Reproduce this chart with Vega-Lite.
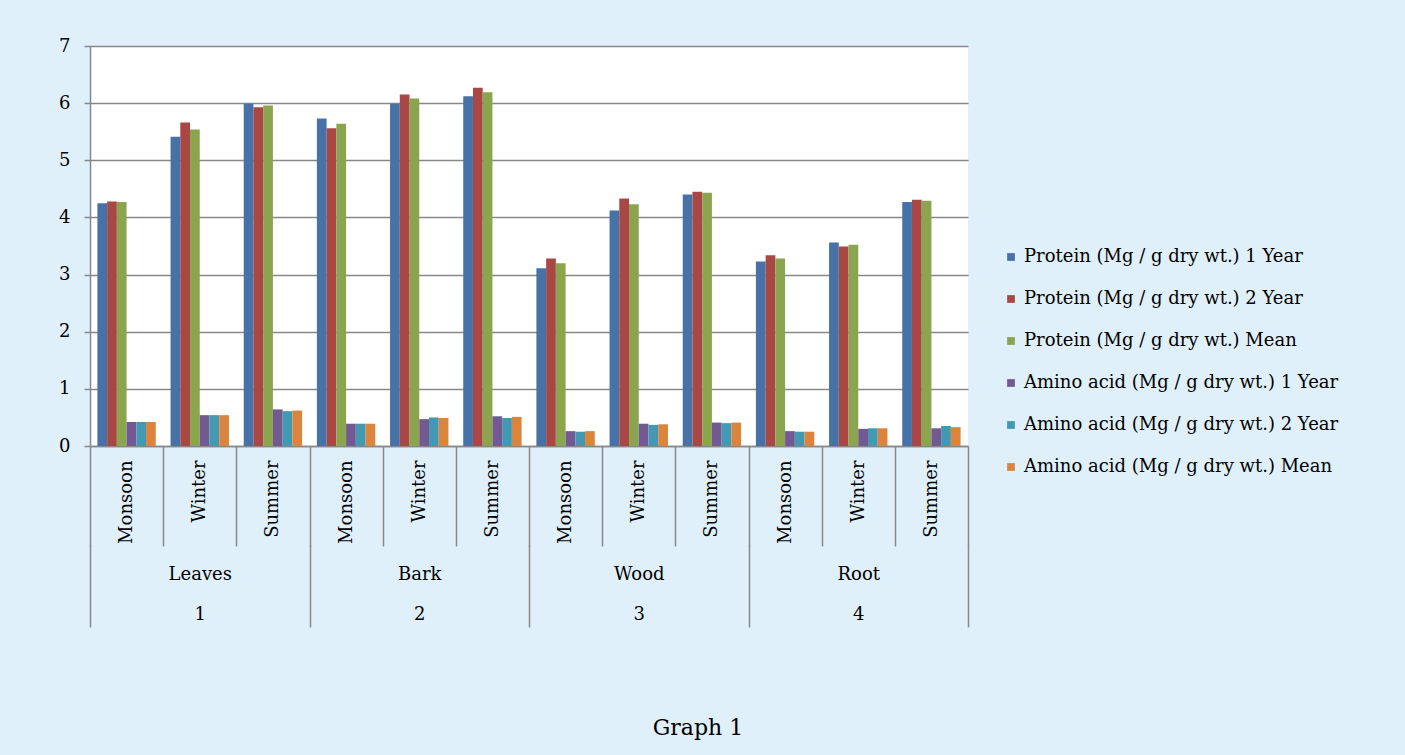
{
  "$schema": "https://vega.github.io/schema/vega-lite/v6.json",
  "width": 878,
  "height": 400,
  "autosize": {"type": "none"},
  "padding": {"left": 90, "top": 46, "right": 437, "bottom": 309},
  "background": "#dff0fb",
  "config": {
    "view": {"fill": "white", "stroke": null},
    "font": "DejaVu Serif"
  },
  "title": {
    "text": "Graph 1",
    "orient": "bottom",
    "anchor": "middle",
    "dx": 169,
    "offset": 90,
    "font": "DejaVu Serif",
    "fontSize": 22,
    "fontWeight": "normal",
    "color": "black"
  },
  "datasets": {
    "bars": [
      {"k": "Leaves|Monsoon", "s": "Protein (Mg / g dry wt.) 1 Year", "v": 4.25},
      {"k": "Leaves|Monsoon", "s": "Protein (Mg / g dry wt.) 2 Year", "v": 4.28},
      {"k": "Leaves|Monsoon", "s": "Protein (Mg / g dry wt.) Mean", "v": 4.27},
      {"k": "Leaves|Monsoon", "s": "Amino acid (Mg / g dry wt.) 1 Year", "v": 0.42},
      {"k": "Leaves|Monsoon", "s": "Amino acid (Mg / g dry wt.) 2 Year", "v": 0.42},
      {"k": "Leaves|Monsoon", "s": "Amino acid (Mg / g dry wt.) Mean", "v": 0.42},
      {"k": "Leaves|Winter", "s": "Protein (Mg / g dry wt.) 1 Year", "v": 5.41},
      {"k": "Leaves|Winter", "s": "Protein (Mg / g dry wt.) 2 Year", "v": 5.66},
      {"k": "Leaves|Winter", "s": "Protein (Mg / g dry wt.) Mean", "v": 5.54},
      {"k": "Leaves|Winter", "s": "Amino acid (Mg / g dry wt.) 1 Year", "v": 0.54},
      {"k": "Leaves|Winter", "s": "Amino acid (Mg / g dry wt.) 2 Year", "v": 0.54},
      {"k": "Leaves|Winter", "s": "Amino acid (Mg / g dry wt.) Mean", "v": 0.54},
      {"k": "Leaves|Summer", "s": "Protein (Mg / g dry wt.) 1 Year", "v": 5.99},
      {"k": "Leaves|Summer", "s": "Protein (Mg / g dry wt.) 2 Year", "v": 5.93},
      {"k": "Leaves|Summer", "s": "Protein (Mg / g dry wt.) Mean", "v": 5.96},
      {"k": "Leaves|Summer", "s": "Amino acid (Mg / g dry wt.) 1 Year", "v": 0.64},
      {"k": "Leaves|Summer", "s": "Amino acid (Mg / g dry wt.) 2 Year", "v": 0.61},
      {"k": "Leaves|Summer", "s": "Amino acid (Mg / g dry wt.) Mean", "v": 0.62},
      {"k": "Bark|Monsoon", "s": "Protein (Mg / g dry wt.) 1 Year", "v": 5.73},
      {"k": "Bark|Monsoon", "s": "Protein (Mg / g dry wt.) 2 Year", "v": 5.56},
      {"k": "Bark|Monsoon", "s": "Protein (Mg / g dry wt.) Mean", "v": 5.64},
      {"k": "Bark|Monsoon", "s": "Amino acid (Mg / g dry wt.) 1 Year", "v": 0.39},
      {"k": "Bark|Monsoon", "s": "Amino acid (Mg / g dry wt.) 2 Year", "v": 0.39},
      {"k": "Bark|Monsoon", "s": "Amino acid (Mg / g dry wt.) Mean", "v": 0.39},
      {"k": "Bark|Winter", "s": "Protein (Mg / g dry wt.) 1 Year", "v": 5.99},
      {"k": "Bark|Winter", "s": "Protein (Mg / g dry wt.) 2 Year", "v": 6.15},
      {"k": "Bark|Winter", "s": "Protein (Mg / g dry wt.) Mean", "v": 6.08},
      {"k": "Bark|Winter", "s": "Amino acid (Mg / g dry wt.) 1 Year", "v": 0.47},
      {"k": "Bark|Winter", "s": "Amino acid (Mg / g dry wt.) 2 Year", "v": 0.50},
      {"k": "Bark|Winter", "s": "Amino acid (Mg / g dry wt.) Mean", "v": 0.49},
      {"k": "Bark|Summer", "s": "Protein (Mg / g dry wt.) 1 Year", "v": 6.12},
      {"k": "Bark|Summer", "s": "Protein (Mg / g dry wt.) 2 Year", "v": 6.27},
      {"k": "Bark|Summer", "s": "Protein (Mg / g dry wt.) Mean", "v": 6.19},
      {"k": "Bark|Summer", "s": "Amino acid (Mg / g dry wt.) 1 Year", "v": 0.52},
      {"k": "Bark|Summer", "s": "Amino acid (Mg / g dry wt.) 2 Year", "v": 0.49},
      {"k": "Bark|Summer", "s": "Amino acid (Mg / g dry wt.) Mean", "v": 0.51},
      {"k": "Wood|Monsoon", "s": "Protein (Mg / g dry wt.) 1 Year", "v": 3.11},
      {"k": "Wood|Monsoon", "s": "Protein (Mg / g dry wt.) 2 Year", "v": 3.28},
      {"k": "Wood|Monsoon", "s": "Protein (Mg / g dry wt.) Mean", "v": 3.20},
      {"k": "Wood|Monsoon", "s": "Amino acid (Mg / g dry wt.) 1 Year", "v": 0.26},
      {"k": "Wood|Monsoon", "s": "Amino acid (Mg / g dry wt.) 2 Year", "v": 0.25},
      {"k": "Wood|Monsoon", "s": "Amino acid (Mg / g dry wt.) Mean", "v": 0.26},
      {"k": "Wood|Winter", "s": "Protein (Mg / g dry wt.) 1 Year", "v": 4.12},
      {"k": "Wood|Winter", "s": "Protein (Mg / g dry wt.) 2 Year", "v": 4.33},
      {"k": "Wood|Winter", "s": "Protein (Mg / g dry wt.) Mean", "v": 4.23},
      {"k": "Wood|Winter", "s": "Amino acid (Mg / g dry wt.) 1 Year", "v": 0.39},
      {"k": "Wood|Winter", "s": "Amino acid (Mg / g dry wt.) 2 Year", "v": 0.37},
      {"k": "Wood|Winter", "s": "Amino acid (Mg / g dry wt.) Mean", "v": 0.38},
      {"k": "Wood|Summer", "s": "Protein (Mg / g dry wt.) 1 Year", "v": 4.40},
      {"k": "Wood|Summer", "s": "Protein (Mg / g dry wt.) 2 Year", "v": 4.45},
      {"k": "Wood|Summer", "s": "Protein (Mg / g dry wt.) Mean", "v": 4.43},
      {"k": "Wood|Summer", "s": "Amino acid (Mg / g dry wt.) 1 Year", "v": 0.41},
      {"k": "Wood|Summer", "s": "Amino acid (Mg / g dry wt.) 2 Year", "v": 0.40},
      {"k": "Wood|Summer", "s": "Amino acid (Mg / g dry wt.) Mean", "v": 0.41},
      {"k": "Root|Monsoon", "s": "Protein (Mg / g dry wt.) 1 Year", "v": 3.23},
      {"k": "Root|Monsoon", "s": "Protein (Mg / g dry wt.) 2 Year", "v": 3.34},
      {"k": "Root|Monsoon", "s": "Protein (Mg / g dry wt.) Mean", "v": 3.28},
      {"k": "Root|Monsoon", "s": "Amino acid (Mg / g dry wt.) 1 Year", "v": 0.26},
      {"k": "Root|Monsoon", "s": "Amino acid (Mg / g dry wt.) 2 Year", "v": 0.25},
      {"k": "Root|Monsoon", "s": "Amino acid (Mg / g dry wt.) Mean", "v": 0.25},
      {"k": "Root|Winter", "s": "Protein (Mg / g dry wt.) 1 Year", "v": 3.56},
      {"k": "Root|Winter", "s": "Protein (Mg / g dry wt.) 2 Year", "v": 3.49},
      {"k": "Root|Winter", "s": "Protein (Mg / g dry wt.) Mean", "v": 3.52},
      {"k": "Root|Winter", "s": "Amino acid (Mg / g dry wt.) 1 Year", "v": 0.30},
      {"k": "Root|Winter", "s": "Amino acid (Mg / g dry wt.) 2 Year", "v": 0.31},
      {"k": "Root|Winter", "s": "Amino acid (Mg / g dry wt.) Mean", "v": 0.31},
      {"k": "Root|Summer", "s": "Protein (Mg / g dry wt.) 1 Year", "v": 4.27},
      {"k": "Root|Summer", "s": "Protein (Mg / g dry wt.) 2 Year", "v": 4.31},
      {"k": "Root|Summer", "s": "Protein (Mg / g dry wt.) Mean", "v": 4.29},
      {"k": "Root|Summer", "s": "Amino acid (Mg / g dry wt.) 1 Year", "v": 0.31},
      {"k": "Root|Summer", "s": "Amino acid (Mg / g dry wt.) 2 Year", "v": 0.35},
      {"k": "Root|Summer", "s": "Amino acid (Mg / g dry wt.) Mean", "v": 0.33}
    ],
    "tissues": [
      {"tissue": "Leaves", "num": 1},
      {"tissue": "Bark", "num": 2},
      {"tissue": "Wood", "num": 3},
      {"tissue": "Root", "num": 4}
    ]
  },
  "layer": [
    {
      "data": {"name": "bars"},
      "mark": {"type": "bar"},
      "encoding": {
        "x": {
          "field": "k",
          "type": "nominal",
          "sort": null,
          "scale": {"paddingInner": 0, "paddingOuter": 0},
          "axis": {
            "title": null,
            "labelExpr": "split(datum.label, '|')[1]",
            "labelAngle": -90,
            "labelAlign": "right",
            "labelBaseline": "middle",
            "labelFont": "DejaVu Serif",
            "labelFontSize": 18,
            "labelColor": "black",
            "labelPadding": -86,
            "ticks": true,
            "tickBand": "extent",
            "tickSize": 100,
            "tickColor": "#888888",
            "tickWidth": 1.5,
            "domainColor": "#888888",
            "domainWidth": 1.5,
            "grid": false
          }
        },
        "xOffset": {
          "field": "s",
          "type": "nominal",
          "sort": null,
          "scale": {"paddingInner": 0, "paddingOuter": 0.76}
        },
        "y": {
          "field": "v",
          "type": "quantitative",
          "scale": {"domain": [0, 7], "nice": false},
          "axis": {
            "title": null,
            "values": [0, 1, 2, 3, 4, 5, 6, 7],
            "labelFont": "DejaVu Serif",
            "labelFontSize": 18,
            "labelColor": "black",
            "labelPadding": 14,
            "tickSize": 6,
            "tickColor": "#888888",
            "tickWidth": 1.5,
            "domainColor": "#888888",
            "domainWidth": 1.5,
            "grid": true,
            "gridColor": "#888888",
            "gridWidth": 1.4,
            "gridOpacity": 1
          }
        },
        "color": {
          "field": "s",
          "type": "nominal",
          "scale": {
            "domain": [
              "Protein (Mg / g dry wt.) 1 Year",
              "Protein (Mg / g dry wt.) 2 Year",
              "Protein (Mg / g dry wt.) Mean",
              "Amino acid (Mg / g dry wt.) 1 Year",
              "Amino acid (Mg / g dry wt.) 2 Year",
              "Amino acid (Mg / g dry wt.) Mean"
            ],
            "range": ["#4672A8", "#A84744", "#8AA54E", "#735992", "#4299B1", "#DB843D"]
          },
          "legend": {
            "orient": "none",
            "legendX": 912,
            "legendY": 202,
            "title": null,
            "symbolType": "square",
            "symbolSize": 60,
            "symbolStrokeWidth": 0,
            "labelFont": "DejaVu Serif",
            "labelFontSize": 18,
            "labelColor": "black",
            "labelOffset": 4,
            "labelLimit": 0,
            "rowPadding": 24
          }
        }
      }
    },
    {
      "data": {"name": "tissues"},
      "mark": {"type": "rule", "opacity": 0},
      "encoding": {
        "x": {
          "field": "tissue",
          "type": "nominal",
          "sort": null,
          "scale": {"paddingInner": 0, "paddingOuter": 0},
          "axis": {
            "title": null,
            "orient": "bottom",
            "offset": 99,
            "domain": false,
            "labelExpr": "indexof(['Leaves','Bark','Wood','Root'], datum.label) < 0 ? '' : [datum.label, '' + (indexof(['Leaves','Bark','Wood','Root'], datum.label) + 1)]",
            "labelAngle": 0,
            "labelAlign": "center",
            "labelBaseline": "top",
            "labelFont": "DejaVu Serif",
            "labelFontSize": 18,
            "labelColor": "black",
            "labelLineHeight": 40,
            "labelPadding": -62,
            "ticks": true,
            "tickBand": "extent",
            "tickSize": 82,
            "tickColor": "#888888",
            "tickWidth": 1.5,
            "grid": false
          }
        }
      }
    }
  ],
  "resolve": {"scale": {"x": "independent"}, "axis": {"x": "independent"}}
}
